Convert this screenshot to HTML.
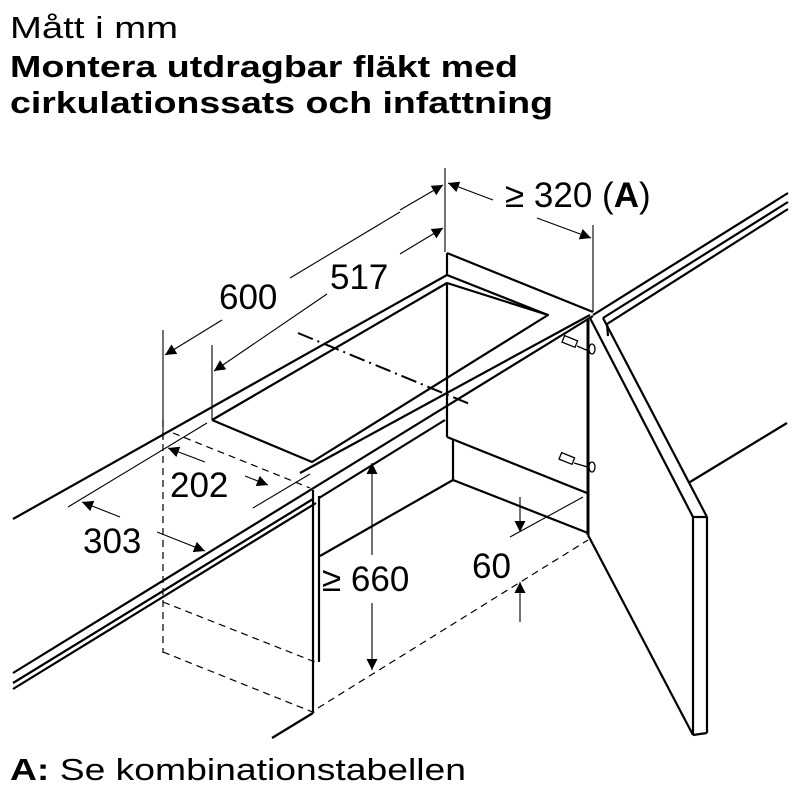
<!DOCTYPE html>
<html><head><meta charset="utf-8"><style>
html,body{margin:0;padding:0;background:#fff;}
svg{display:block;}
text{font-family:"Liberation Sans",Arial,sans-serif;fill:#000;}
</style></head><body>
<svg width="800" height="800" viewBox="0 0 800 800" xmlns="http://www.w3.org/2000/svg">
<defs>
<marker id="ar" viewBox="0 0 10 10" refX="10" refY="5" markerWidth="18" markerHeight="11" markerUnits="userSpaceOnUse" orient="auto"><path d="M0,0 L10,5 L0,10 z" fill="#000"/></marker>
</defs>
<text x="10" y="38" font-size="31" textLength="168" lengthAdjust="spacingAndGlyphs">Mått i mm</text>
<text x="10" y="77" font-size="31" font-weight="bold" textLength="508" lengthAdjust="spacingAndGlyphs">Montera utdragbar fläkt med</text>
<text x="10" y="113" font-size="31" font-weight="bold" textLength="543" lengthAdjust="spacingAndGlyphs">cirkulationssats och infattning</text>
<text x="10" y="780" font-size="31" textLength="456" lengthAdjust="spacingAndGlyphs"><tspan font-weight="bold">A:</tspan> Se kombinationstabellen</text>

<g stroke="#000" fill="none" stroke-width="2.2" stroke-linejoin="round">
<line x1="13" y1="519" x2="447" y2="275"/>
<line x1="13" y1="673" x2="593" y2="316"/>
<line x1="13" y1="683" x2="313" y2="499"/>
<line x1="13" y1="689" x2="316" y2="503"/>
<line x1="300" y1="473" x2="590" y2="315"/>
<line x1="447" y1="253" x2="593" y2="312"/>
<line x1="447" y1="253" x2="447" y2="275"/>
<polyline points="212,420 447,283 548,315 312,462 212,420"/>
<line x1="447" y1="275" x2="548" y2="315"/>
<line x1="593" y1="315" x2="788" y2="193"/>
<line x1="603" y1="318" x2="788" y2="202"/>
<line x1="607" y1="324" x2="788" y2="209"/>
<line x1="313" y1="490" x2="313" y2="713"/>
<line x1="319" y1="496" x2="319" y2="662"/>
<line x1="313" y1="713" x2="272" y2="738"/>
<line x1="319" y1="498" x2="445" y2="420"/>
<line x1="447" y1="283" x2="447" y2="437"/>
<line x1="447" y1="437" x2="587" y2="493"/>
<line x1="453" y1="440" x2="453" y2="480"/>
<line x1="453" y1="480" x2="588" y2="533"/>
<line x1="320" y1="556" x2="453" y2="480"/>
<line x1="588" y1="320" x2="588" y2="535" stroke-width="3"/>
<line x1="590" y1="318" x2="693" y2="517"/>
<line x1="603" y1="318" x2="707" y2="517"/>
<line x1="693" y1="517" x2="707" y2="517"/>
<line x1="693" y1="517" x2="693" y2="735"/>
<line x1="707" y1="517" x2="707" y2="733"/>
<line x1="693" y1="735" x2="707" y2="733"/>
<line x1="588" y1="535" x2="693" y2="735"/>
<line x1="607" y1="324" x2="608" y2="336"/>
<line x1="690" y1="482" x2="787" y2="423"/>
</g>
<g stroke="#000" fill="#fff" stroke-width="1.3">
<rect x="563" y="338" width="14" height="7" transform="rotate(22 570 341)"/>
<line x1="577" y1="346" x2="591" y2="352"/>
<ellipse cx="592" cy="349" rx="3" ry="5"/>
<rect x="560" y="455" width="14" height="7" transform="rotate(22 567 458)"/>
<line x1="574" y1="463" x2="591" y2="468"/>
<ellipse cx="592" cy="467" rx="3" ry="5"/>
</g>
<g stroke="#000" fill="none" stroke-width="1.2" stroke-dasharray="7,5">
<line x1="163" y1="420" x2="163" y2="653"/>
<line x1="163" y1="602" x2="315" y2="662"/>
<line x1="163" y1="652" x2="315" y2="713"/>
<line x1="173" y1="433" x2="310" y2="488"/>
<line x1="318" y1="708" x2="588" y2="540"/>
</g>
<line x1="298" y1="333" x2="472" y2="405" stroke="#000" stroke-width="2" stroke-dasharray="16,5,2,5"/>
<g stroke="#000" fill="none" stroke-width="1.1">
<line x1="163" y1="330" x2="163" y2="440"/>
<line x1="212" y1="345" x2="212" y2="420"/>
<line x1="445" y1="168" x2="445" y2="252"/>
<line x1="593" y1="225" x2="593" y2="312"/>
<line x1="290" y1="278" x2="400" y2="212"/>
<line x1="400" y1="210" x2="443" y2="185" marker-end="url(#ar)"/>
<line x1="222" y1="320" x2="165" y2="355" marker-end="url(#ar)"/>
<line x1="327" y1="294" x2="214" y2="371" marker-end="url(#ar)"/>
<line x1="400" y1="254" x2="443" y2="228" marker-end="url(#ar)"/>
<line x1="493" y1="200" x2="448" y2="183" marker-end="url(#ar)"/>
<line x1="537" y1="218" x2="591" y2="238" marker-end="url(#ar)"/>
<line x1="68" y1="507" x2="207" y2="423"/>
<line x1="253" y1="508" x2="310" y2="474"/>
<line x1="205" y1="462" x2="168" y2="448" marker-end="url(#ar)"/>
<line x1="245" y1="476" x2="268" y2="485" marker-end="url(#ar)"/>
<line x1="120" y1="517" x2="82" y2="502" marker-end="url(#ar)"/>
<line x1="157" y1="532" x2="205" y2="551" marker-end="url(#ar)"/>
<line x1="372" y1="555" x2="372" y2="463" marker-end="url(#ar)"/>
<line x1="372" y1="603" x2="372" y2="670" marker-end="url(#ar)"/>
<line x1="510" y1="537" x2="583" y2="497"/>
<line x1="520" y1="497" x2="520" y2="532" marker-end="url(#ar)"/>
<line x1="520" y1="622" x2="520" y2="582" marker-end="url(#ar)"/>
</g>
<g font-size="35">
<text x="219" y="309">600</text>
<text x="330" y="289">517</text>
<text x="505" y="207">≥ 320 (<tspan font-weight="bold">A</tspan>)</text>
<text x="170" y="497">202</text>
<text x="83" y="553">303</text>
<text x="322" y="591">≥ 660</text>
<text x="472" y="578">60</text>
</g>
</svg>
</body></html>
